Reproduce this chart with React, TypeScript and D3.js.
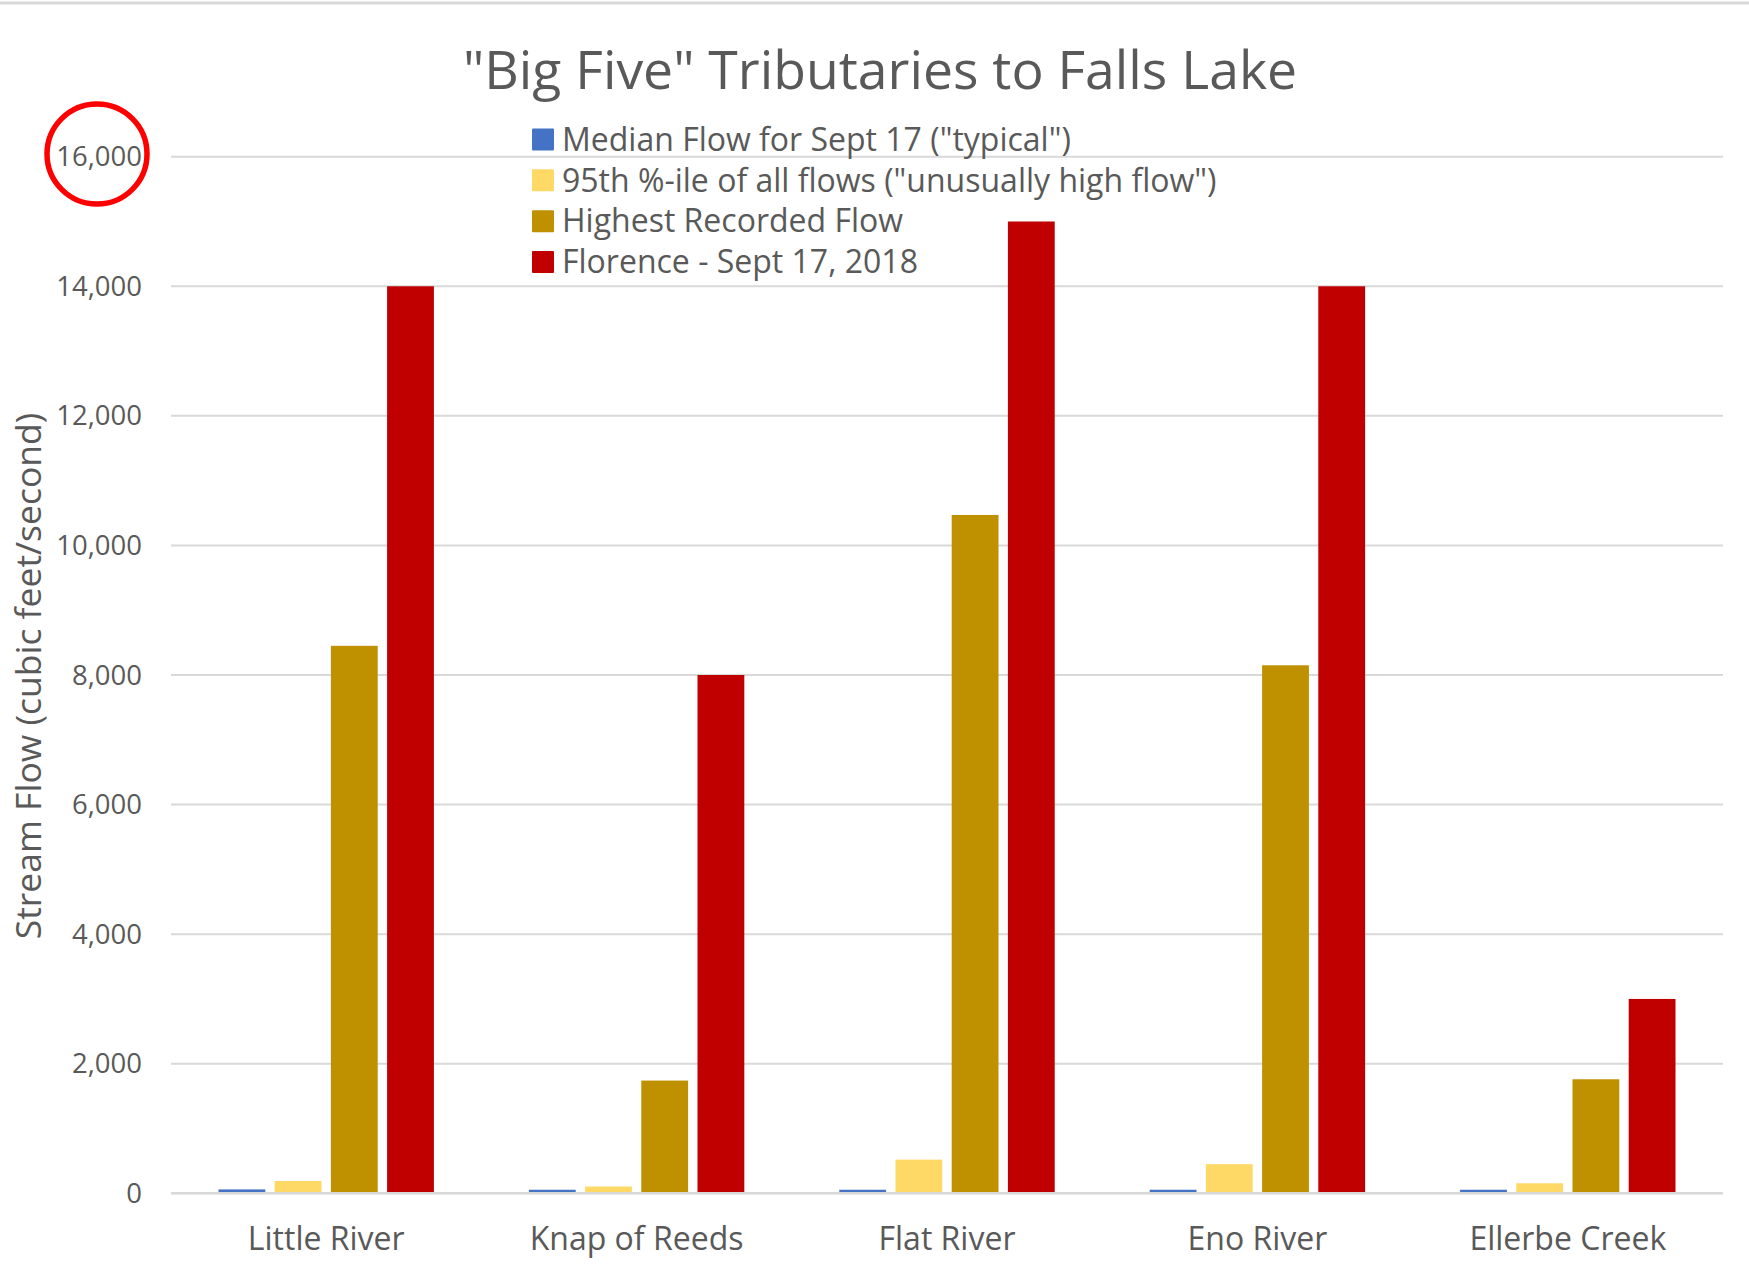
import React from "react";
import * as d3 from "d3";

const categories = ["Little River", "Knap of Reeds", "Flat River", "Eno River", "Ellerbe Creek"];
const seriesNames = [
  'Median Flow for Sept 17 ("typical")',
  '95th %-ile of all flows ("unusually high flow")',
  "Highest Recorded Flow",
  "Florence - Sept 17, 2018",
];
const medianFlow = [60, 55, 55, 55, 55];
const pct95Flow = [190, 105, 520, 450, 155];
const highestFlow = [8450, 1740, 10470, 8150, 1760];
const florenceFlow = [14000, 8000, 15000, 14000, 3000];
const seriesColors = ["#4472C4", "#FFD966", "#BF9000", "#C00000"];
const yTicks = [0, 2000, 4000, 6000, 8000, 10000, 12000, 14000, 16000];

const W = 1749;
const H = 1267;
const FONT = "'Open Sans', 'Noto Sans', sans-serif";
const TEXT = "#595959";

export default function App() {
  const series = [medianFlow, pct95Flow, highestFlow, florenceFlow];
  const left = 171, right = 1723, top = 156.7, bottom = 1193.3;
  const x = d3.scaleBand<string>().domain(categories).range([left, right]).padding(0);
  const xi = d3
    .scaleBand<number>()
    .domain(d3.range(series.length))
    .range([0, x.bandwidth()])
    .paddingInner(0.167)
    .paddingOuter(0.845);
  const y = d3.scaleLinear().domain([0, 16000]).range([bottom, top]);
  const fmt = d3.format(",");

  return (
    <svg width={W} height={H} style={{ display: "block", position: "absolute", left: 0, top: 0, background: "#fff" }}>
      <rect x={0} y={0} width={W} height={H} fill="#fff" />
      <line x1={0} x2={W} y1={3} y2={3} stroke="#D9D9D9" strokeWidth={3} />
      <text x={880} y={89} textAnchor="middle" fontFamily={FONT} fontSize={53.5} fill={TEXT}>
        "Big Five" Tributaries to Falls Lake
      </text>
      {yTicks.map((t) => (
        <g key={t}>
          <line x1={left} x2={right} y1={y(t)} y2={y(t)} stroke="#D9D9D9" strokeWidth={2} />
          <text x={142} y={y(t)} dy="0.35em" textAnchor="end" fontFamily={FONT} fontSize={27.5} fill={TEXT}>
            {fmt(t)}
          </text>
        </g>
      ))}
      {categories.map((c, ci) => (
        <g key={c}>
          {series.map((s, si) => (
            <rect
              key={si}
              x={(x(c) as number) + (xi(si) as number)}
              y={y(s[ci])}
              width={xi.bandwidth()}
              height={bottom - y(s[ci])}
              fill={seriesColors[si]}
            />
          ))}
          <text
            x={(x(c) as number) + x.bandwidth() / 2}
            y={1250}
            textAnchor="middle"
            fontFamily={FONT}
            fontSize={32}
            fill={TEXT}
          >
            {c}
          </text>
        </g>
      ))}
      <line x1={left} x2={right} y1={bottom} y2={bottom} stroke="#D9D9D9" strokeWidth={2.5} />
      <text
        transform={`translate(41,676) rotate(-90)`}
        textAnchor="middle"
        fontFamily={FONT}
        fontSize={35.5}
        fill={TEXT}
      >
        Stream Flow (cubic feet/second)
      </text>
      {seriesNames.map((n, i) => (
        <g key={n} transform={`translate(532,${139.4 + i * 40.9})`}>
          <rect x={0} y={-11} width={22} height={22} fill={seriesColors[i]} rx={1} />
          <text x={30} y={0} dy="0.35em" fontFamily={FONT} fontSize={32} fill={TEXT}>
            {n}
          </text>
        </g>
      ))}
      <ellipse cx={97} cy={154} rx={50} ry={50} fill="none" stroke="#FF0000" strokeWidth={5.5} />
    </svg>
  );
}
